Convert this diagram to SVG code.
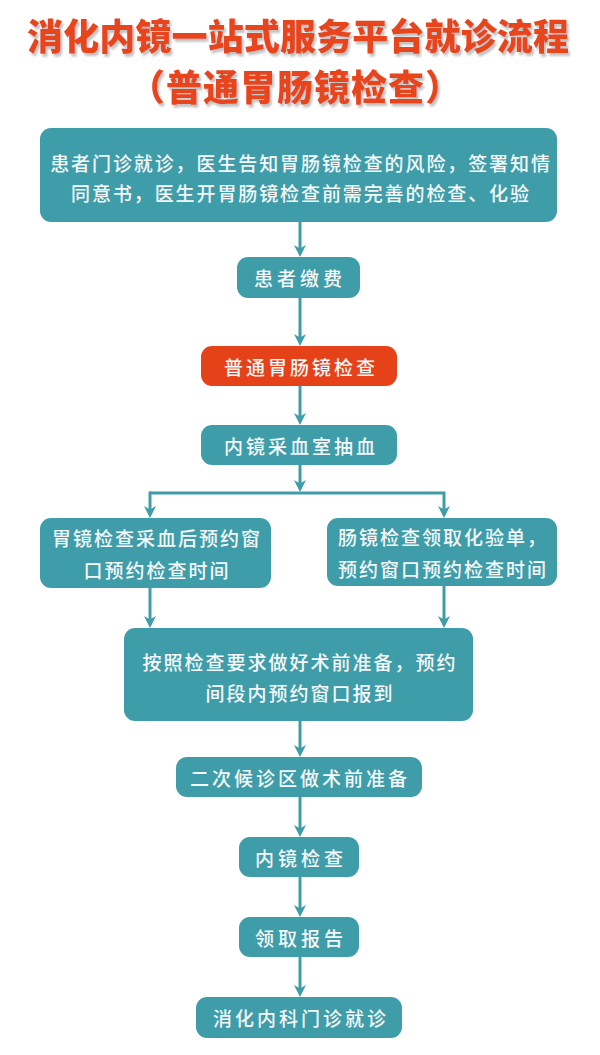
<svg xmlns="http://www.w3.org/2000/svg" width="600" height="1055" viewBox="0 0 600 1055">
<defs>
<filter id="ts" x="-5%" y="-20%" width="110%" height="150%">
<feDropShadow dx="2" dy="3" stdDeviation="1.2" flood-color="#9a9a9a" flood-opacity="0.6"/>
</filter>
<marker id="ah" viewBox="0 0 12 12" refX="4" refY="6" markerWidth="12" markerHeight="12" markerUnits="userSpaceOnUse" orient="auto">
<path d="M0,0 L12,6 L0,12 L3.5,6 Z" fill="#3F9DA9"/>
</marker>
</defs>
<style>
.title{font-family:"Noto Sans CJK SC","Noto Sans",sans-serif;font-weight:900;font-size:36px;fill:#E8451D}
.box{fill:#3F9DA9}
.red{fill:#E5421A}
.t{font-family:"Noto Sans CJK SC","Noto Sans",sans-serif;font-size:19px;font-weight:500;fill:#F4F8F9;text-anchor:middle;dominant-baseline:central}
.c{fill:none;stroke:#3F9DA9;stroke-width:3}
</style>
<rect width="600" height="1055" fill="#FFFFFF"/>
<g id="title" filter="url(#ts)">
<text class="title" x="27" y="34" dominant-baseline="central" textLength="542" lengthAdjust="spacing">消化内镜一站式服务平台就诊流程</text>
<text class="title" x="129" y="85" dominant-baseline="central" letter-spacing="1">（普通胃肠镜检查）</text>
</g>
<g id="connectors">
<line class="c" x1="300" y1="222" x2="300" y2="249" marker-end="url(#ah)"/>
<line class="c" x1="300" y1="298" x2="300" y2="338" marker-end="url(#ah)"/>
<line class="c" x1="300" y1="386" x2="300" y2="417" marker-end="url(#ah)"/>
<line class="c" x1="300" y1="465" x2="300" y2="484" marker-end="url(#ah)"/>
<polyline class="c" points="150,493 444,493 444,510" marker-end="url(#ah)"/>
<line class="c" x1="150" y1="491.5" x2="150" y2="510" marker-end="url(#ah)"/>
<line class="c" x1="150" y1="588" x2="150" y2="620" marker-end="url(#ah)"/>
<line class="c" x1="444" y1="586" x2="444" y2="620" marker-end="url(#ah)"/>
<line class="c" x1="300" y1="721" x2="300" y2="749" marker-end="url(#ah)"/>
<line class="c" x1="300" y1="797" x2="300" y2="829" marker-end="url(#ah)"/>
<line class="c" x1="300" y1="877" x2="300" y2="909" marker-end="url(#ah)"/>
<line class="c" x1="300" y1="957" x2="300" y2="989" marker-end="url(#ah)"/>
</g>
<g id="n1">
<rect class="box" x="40" y="128" width="517" height="94" rx="11"/>
<text class="t" x="301" y="162" letter-spacing="1.9">患者门诊就诊，医生告知胃肠镜检查的风险，签署知情</text>
<text class="t" x="301" y="192" letter-spacing="1.9">同意书，医生开胃肠镜检查前需完善的检查、化验</text>
</g>
<g id="n2">
<rect class="box" x="237" y="257" width="123" height="41" rx="11"/>
<text class="t" x="300" y="277.5" letter-spacing="4">患者缴费</text>
</g>
<g id="n3">
<rect class="red" x="201" y="346" width="196" height="40" rx="11"/>
<text class="t" x="301" y="366" letter-spacing="3">普通胃肠镜检查</text>
</g>
<g id="n4">
<rect class="box" x="201" y="425" width="196" height="40" rx="11"/>
<text class="t" x="301" y="445" letter-spacing="3">内镜采血室抽血</text>
</g>
<g id="n5">
<rect class="box" x="40" y="518" width="231" height="70" rx="11"/>
<text class="t" x="157" y="537" letter-spacing="2">胃镜检查采血后预约窗</text>
<text class="t" x="157" y="569" letter-spacing="2">口预约检查时间</text>
</g>
<g id="n6">
<rect class="box" x="327" y="518" width="230" height="68" rx="11"/>
<text class="t" x="443" y="536" letter-spacing="2">肠镜检查领取化验单，</text>
<text class="t" x="443" y="568" letter-spacing="2">预约窗口预约检查时间</text>
</g>
<g id="n7">
<rect class="box" x="124" y="628" width="349" height="93" rx="11"/>
<text class="t" x="300" y="661" letter-spacing="2">按照检查要求做好术前准备，预约</text>
<text class="t" x="300" y="692" letter-spacing="2">间段内预约窗口报到</text>
</g>
<g id="n8">
<rect class="box" x="176" y="757" width="246" height="40" rx="11"/>
<text class="t" x="300" y="777" letter-spacing="3">二次候诊区做术前准备</text>
</g>
<g id="n9">
<rect class="box" x="239" y="837" width="120" height="40" rx="11"/>
<text class="t" x="301" y="857" letter-spacing="4">内镜检查</text>
</g>
<g id="n10">
<rect class="box" x="239" y="917" width="120" height="40" rx="11"/>
<text class="t" x="301" y="937" letter-spacing="4">领取报告</text>
</g>
<g id="n11">
<rect class="box" x="196" y="997" width="206" height="41" rx="11"/>
<text class="t" x="301" y="1017.5" letter-spacing="3">消化内科门诊就诊</text>
</g>
</svg>
